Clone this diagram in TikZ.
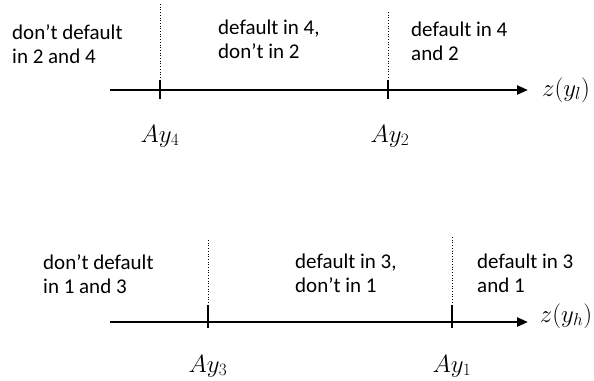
\documentclass[tikz,border=0pt]{standalone}
\usepackage{fontspec}
\setmainfont{Carlito}
\usetikzlibrary{arrows.meta}
\tikzset{
  axisline/.style={line width=2.4pt, -{Triangle[length=11pt,width=9pt]}},
  tickmark/.style={line width=2.4pt},
  guide/.style={line width=0.7pt, dotted},
  region/.style={anchor=west, inner sep=0pt, align=left, font=\fontsize{21}{24}\selectfont},
  mlabel/.style={inner sep=0pt, font=\fontsize{23}{26}\selectfont},
}
\begin{document}
\begin{tikzpicture}[x=1pt,y=-1pt]
\useasboundingbox (0,0) rectangle (594,380);

% upper axis z(y_l)
\coordinate (a0) at (110,90);
\coordinate (a1) at (528,90);
\draw[axisline] (a0) -- (a1);
\node[mlabel] (zl) at (566,90) {$z(y_l)$};
\draw[tickmark] (160,80) -- (160,99);
\draw[tickmark] (388,80) -- (388,99);
\coordinate (g4) at (160,4);
\coordinate (g2) at (388,12);
\draw[guide] (g4) -- (160,80);
\draw[guide] (g2) -- (388,80);
\node[mlabel] (ay4) at (160,136) {$Ay_4$};
\node[mlabel] (ay2) at (390,136) {$Ay_2$};
\node[region] (r1) at (12,44) {don’t default\\in 2 and 4};
\node[region] (r2) at (218,39) {default in 4,\\don’t in 2};
\node[region] (r3) at (411,41) {default in 4\\and 2};

% lower axis z(y_h)
\coordinate (b0) at (110,322);
\coordinate (b1) at (528,322);
\draw[axisline] (b0) -- (b1);
\node[mlabel] (zh) at (566,316) {$z(y_h)$};
\draw[tickmark] (208,305) -- (208,328);
\draw[tickmark] (452,305) -- (452,328);
\coordinate (g3) at (208,240);
\coordinate (g1) at (452,237);
\draw[guide] (g3) -- (208,305);
\draw[guide] (g1) -- (452,305);
\node[mlabel] (ay3) at (208,366) {$Ay_3$};
\node[mlabel] (ay1) at (452,366) {$Ay_1$};
\node[region] (r4) at (43,274) {don’t default\\in 1 and 3};
\node[region] (r5) at (295,273) {default in 3,\\don’t in 1};
\node[region] (r6) at (477,273) {default in 3\\and 1};
\end{tikzpicture}
\end{document}
